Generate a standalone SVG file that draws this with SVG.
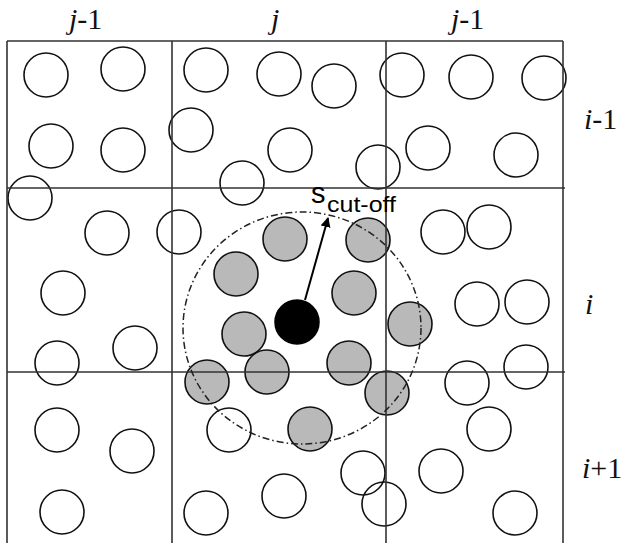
<svg xmlns="http://www.w3.org/2000/svg" width="627" height="543" viewBox="0 0 627 543">
<defs>
<style>
.p{fill:none;stroke:#111;stroke-width:1.6}
.g{fill:#b9b9b9;stroke:#111;stroke-width:1.6}
.grid{stroke:#333;stroke-width:1.6;fill:none}
.lbl{font-family:"Liberation Serif",serif;font-size:30px;fill:#111}
.it{font-style:italic}
</style>
<marker id="ah" viewBox="0 0 10 10" refX="9" refY="5" markerWidth="5" markerHeight="5" orient="auto">
<path d="M0,0 L10,5 L0,10 z" fill="#000"/>
</marker>
</defs>
<rect width="627" height="543" fill="#fff"/>
<g id="particles">
<circle class="p" cx="46" cy="75" r="22"/>
<circle class="p" cx="123" cy="69" r="22"/>
<circle class="p" cx="51" cy="146" r="22"/>
<circle class="p" cx="123" cy="150" r="22"/>
<circle class="p" cx="30" cy="198" r="22"/>
<circle class="p" cx="206" cy="70" r="22"/>
<circle class="p" cx="279" cy="74" r="22"/>
<circle class="p" cx="334" cy="86" r="22"/>
<circle class="p" cx="191" cy="130" r="22"/>
<circle class="p" cx="290" cy="150" r="22"/>
<circle class="p" cx="242" cy="183" r="22"/>
<circle class="p" cx="402" cy="75" r="22"/>
<circle class="p" cx="471" cy="77" r="22"/>
<circle class="p" cx="544" cy="78" r="22"/>
<circle class="p" cx="428" cy="148" r="22"/>
<circle class="p" cx="516" cy="155" r="22"/>
<circle class="p" cx="378" cy="167" r="22"/>
<circle class="p" cx="107" cy="233" r="22"/>
<circle class="p" cx="179" cy="232" r="22"/>
<circle class="p" cx="63" cy="293" r="22"/>
<circle class="p" cx="135" cy="348" r="22"/>
<circle class="p" cx="57" cy="363" r="22"/>
<circle class="p" cx="443" cy="232" r="22"/>
<circle class="p" cx="489" cy="227" r="22"/>
<circle class="p" cx="477" cy="304" r="22"/>
<circle class="p" cx="527" cy="302" r="22"/>
<circle class="p" cx="526" cy="367" r="22"/>
<circle class="p" cx="467" cy="383" r="22"/>
<circle class="p" cx="57" cy="430" r="22"/>
<circle class="p" cx="132" cy="451" r="22"/>
<circle class="p" cx="229" cy="430" r="22"/>
<circle class="p" cx="62" cy="512" r="22"/>
<circle class="p" cx="206" cy="513" r="22"/>
<circle class="p" cx="284" cy="496" r="22"/>
<circle class="p" cx="489" cy="429" r="22"/>
<circle class="p" cx="363" cy="473" r="22"/>
<circle class="p" cx="384" cy="504" r="22"/>
<circle class="p" cx="441" cy="471" r="22"/>
<circle class="p" cx="515" cy="513" r="22"/>
</g>
<g id="neighbours">
<circle class="g" cx="285" cy="239" r="22"/>
<circle class="g" cx="236" cy="274" r="22"/>
<circle class="g" cx="244" cy="334" r="22"/>
<circle class="g" cx="267" cy="372" r="22"/>
<circle class="g" cx="207" cy="382" r="22"/>
<circle class="g" cx="368" cy="240" r="22"/>
<circle class="g" cx="354" cy="293" r="22"/>
<circle class="g" cx="410" cy="324" r="22"/>
<circle class="g" cx="349" cy="363" r="22"/>
<circle class="g" cx="387" cy="393" r="22"/>
<circle class="g" cx="310" cy="429" r="22"/>
</g>
<g id="grid" class="grid">
<path d="M7,41 H563 M7,188 H565 M7,372 H565 M7,41 V543 M172,41 V543 M386,41 V543 M563,41 V543"/>
</g>
<g id="cutoff">
<ellipse cx="302" cy="328" rx="119" ry="116" fill="none" stroke="#222" stroke-width="1.5" stroke-dasharray="7 3 1.5 3"/>
</g>
<g id="connectors">
<line x1="305" y1="300" x2="328" y2="218" stroke="#000" stroke-width="2" marker-end="url(#ah)"/>
</g>
<g id="central">
<circle cx="297" cy="322" r="22" fill="#000" stroke="#000" stroke-width="1.5"/>
</g>
<g id="labels">
<text class="lbl" x="69" y="29"><tspan class="it">j</tspan>-1</text>
<text class="lbl it" x="271" y="29">j</text>
<text class="lbl" x="451" y="29"><tspan class="it">j</tspan>-1</text>
<text class="lbl" x="584" y="129"><tspan class="it">i</tspan>-1</text>
<text class="lbl it" x="585" y="314">i</text>
<text class="lbl" x="582" y="478"><tspan class="it">i</tspan>+1</text>
<text x="311" y="203" font-family="'Liberation Sans',Arial,sans-serif" font-size="29" fill="#000">s</text>
<text x="327" y="212" font-family="'Liberation Sans',Arial,sans-serif" font-size="22" fill="#000" textLength="69" lengthAdjust="spacingAndGlyphs">cut-off</text>
</g>
</svg>
